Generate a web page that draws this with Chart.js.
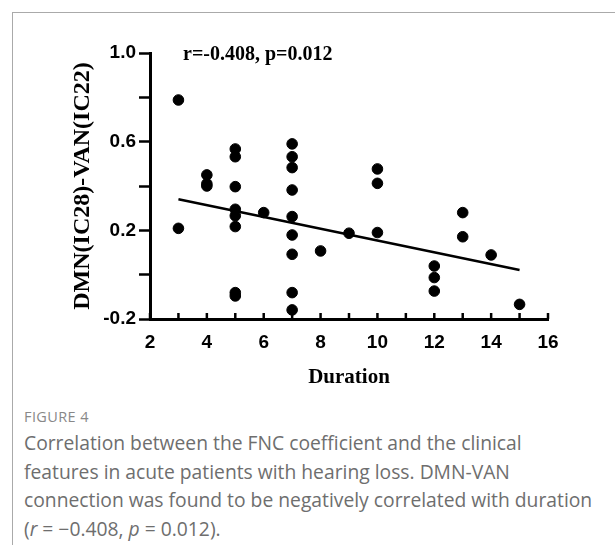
<!DOCTYPE html>
<html>
<head>
<meta charset="utf-8">
<script src="https://cdn.jsdelivr.net/npm/chart.js@4.4.1/dist/chart.umd.min.js"></script>
<style>
  body { margin: 0; background: #fff; width: 615px; height: 545px; overflow: hidden; position: relative; }
  #frame { position: absolute; left: 12px; top: 12px; right: 0; bottom: 0; border-top: 1px solid #aaa; border-left: 1px solid #aaa; }
  #wrap { position: absolute; left: 0; top: 0; width: 615px; height: 400px; }
  #fig { position: absolute; left: 24px; top: 407px; font: 14.5px "Open Sans", sans-serif; color: #888; letter-spacing: 0.4px; }
  #cap { position: absolute; left: 24px; top: 429px; font: 19.3px "Open Sans", sans-serif; line-height: 28.5px; color: #6e6e6e; white-space: nowrap; }
</style>
</head>
<body>
<div id="frame"></div>
<div id="wrap"><canvas id="chart"></canvas></div>
<div id="fig">FIGURE 4</div>
<div id="cap">Correlation between the FNC coefficient and the clinical<br>features in acute patients with hearing loss. DMN-VAN<br>connection was found to be negatively correlated with duration<br>(<i>r</i> = −0.408, <i>p</i> = 0.012).</div>
<script>
// points
const duration = [3, 3, 4, 4, 4, 5, 5, 5, 5, 5, 5, 5, 5, 6, 7, 7, 7, 7, 7, 7, 7, 7, 7, 8, 9, 10, 10, 10, 12, 12, 12, 13, 13, 14, 15];
const fnc = [0.788, 0.209, 0.450, 0.410, 0.400, 0.567, 0.532, 0.397, 0.295, 0.266, 0.217, -0.081, -0.096, 0.280,
  0.590, 0.532, 0.483, 0.382, 0.262, 0.179, 0.092, -0.081, -0.159, 0.107, 0.187, 0.477, 0.412, 0.190,
  0.039, -0.013, -0.074, 0.280, 0.171, 0.089, -0.134];
// regression line ends
const fitX = [3, 15];
const fitY = [0.340, 0.021];
const annotation = 'r=-0.408, p=0.012';

const points = duration.map((d, i) => ({ x: d, y: fnc[i] }));
const fit = fitX.map((d, i) => ({ x: d, y: fitY[i] }));

// GraphPad style: x ticks point up into the plot
const innerTicks = {
  id: 'innerTicks',
  afterDraw(chart) {
    const { ctx, scales: { x }, chartArea } = chart;
    ctx.save();
    ctx.strokeStyle = '#000';
    ctx.lineWidth = 2.5;
    x.ticks.forEach(t => {
      const px = x.getPixelForValue(t.value);
      ctx.beginPath();
      ctx.moveTo(px, chartArea.bottom);
      ctx.lineTo(px, chartArea.bottom - 6);
      ctx.stroke();
    });
    ctx.fillStyle = '#000';
    ctx.font = 'bold 20px "Liberation Serif"';
    ctx.textBaseline = 'alphabetic';
    ctx.fillText(annotation, 183, 60);
    ctx.restore();
  }
};

const chart = new Chart(document.getElementById('chart'), {
  type: 'scatter',
  data: {
    datasets: [
      { data: points, backgroundColor: '#000', borderColor: '#000', pointRadius: 5.3, pointHoverRadius: 5.3 },
      { type: 'line', data: fit, borderColor: '#000', borderWidth: 2.5, pointRadius: 0, fill: false }
    ]
  },
  options: {
    responsive: true,
    maintainAspectRatio: false,
    animation: false,
    layout: { padding: { left: 60, right: 67, top: 53, bottom: 0 } },
    plugins: { legend: { display: false }, tooltip: { enabled: false } },
    scales: {
      x: {
        type: 'linear', min: 2, max: 16,
        afterFit: s => { s.height = 81; },
        grid: { display: false },
        border: { display: true, color: '#000', width: 3 },
        ticks: {
          stepSize: 1, autoSkip: false, maxRotation: 0, padding: 4, color: '#000',
          font: { family: 'Liberation Sans', weight: 'bold', size: 19 },
          callback: v => (v % 2 === 0 ? v : '')
        },
        title: {
          display: true, text: 'Duration', color: '#000',
          font: { family: 'Liberation Serif', weight: 'bold', size: 21 },
          padding: { top: 0, bottom: 10 }
        }
      },
      y: {
        min: -0.2, max: 1.0,
        afterFit: s => { s.width = 90; },
        grid: { display: true, drawOnChartArea: false, drawTicks: true, tickLength: 11, tickWidth: 2.5, tickColor: '#000' },
        border: { display: true, color: '#000', width: 3 },
        ticks: {
          stepSize: 0.2, autoSkip: false, padding: 3, color: '#000',
          font: { family: 'Liberation Sans', weight: 'bold', size: 19 },
          callback: v => {
            const t = Math.round(v * 10);
            return (t + 2) % 4 === 0 ? (t / 10).toFixed(1) : '';
          }
        },
        title: {
          display: true, text: 'DMN(IC28)-VAN(IC22)', color: '#000',
          font: { family: 'Liberation Serif', weight: 'bold', size: 24 },
          padding: { top: 8, bottom: 0 }
        }
      }
    }
  },
  plugins: [innerTicks]
});
</script>
</body>
</html>
